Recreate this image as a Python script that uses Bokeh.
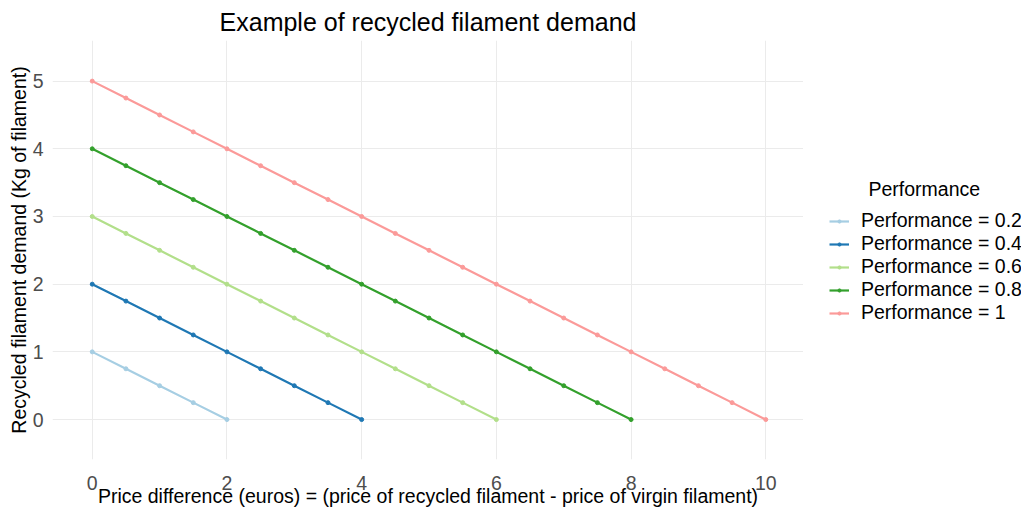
from bokeh.plotting import figure
from bokeh.layouts import row
from bokeh.models import Legend, LegendItem, Label, Range1d, FixedTicker
from bokeh.embed import file_html
from bokeh.resources import INLINE

series_names = ["Performance = 0.2", "Performance = 0.4", "Performance = 0.6",
                "Performance = 0.8", "Performance = 1"]
colors = ["#A6CEE3", "#1F78B4", "#B2DF8A", "#33A02C", "#FB9A99"]

x_p02 = [0, 0.5, 1, 1.5, 2]
y_p02 = [1, 0.75, 0.5, 0.25, 0]
x_p04 = [0, 0.5, 1, 1.5, 2, 2.5, 3, 3.5, 4]
y_p04 = [2, 1.75, 1.5, 1.25, 1, 0.75, 0.5, 0.25, 0]
x_p06 = [0, 0.5, 1, 1.5, 2, 2.5, 3, 3.5, 4, 4.5, 5, 5.5, 6]
y_p06 = [3, 2.75, 2.5, 2.25, 2, 1.75, 1.5, 1.25, 1, 0.75, 0.5, 0.25, 0]
x_p08 = [0, 0.5, 1, 1.5, 2, 2.5, 3, 3.5, 4, 4.5, 5, 5.5, 6, 6.5, 7, 7.5, 8]
y_p08 = [4, 3.75, 3.5, 3.25, 3, 2.75, 2.5, 2.25, 2, 1.75, 1.5, 1.25, 1, 0.75, 0.5, 0.25, 0]
x_p10 = [0, 0.5, 1, 1.5, 2, 2.5, 3, 3.5, 4, 4.5, 5, 5.5, 6, 6.5, 7, 7.5, 8, 8.5, 9, 9.5, 10]
y_p10 = [5, 4.75, 4.5, 4.25, 4, 3.75, 3.5, 3.25, 3, 2.75, 2.5, 2.25, 2, 1.75, 1.5, 1.25,
         1, 0.75, 0.5, 0.25, 0]

xs = [x_p02, x_p04, x_p06, x_p08, x_p10]
ys = [y_p02, y_p04, y_p06, y_p08, y_p10]

x_ticks = [0, 2, 4, 6, 8, 10]
y_ticks = [0, 1, 2, 3, 4, 5]

FONT = "Liberation Sans"

p = figure(frame_width=751, frame_height=419, output_backend="svg", toolbar_location=None,
           x_range=Range1d(-0.59, 10.56), y_range=Range1d(-0.59, 5.6),
           min_border_left=0, min_border_right=0, min_border_top=0, min_border_bottom=0,
           margin=(0, 0, 0, 4))

p.title.text = "Example of recycled filament demand"
p.title.align = "center"
p.title.text_font = FONT
p.title.text_font_size = "25px"
p.title.text_font_style = "normal"
p.title.text_color = "#000000"
p.title.standoff = 10
p.title.offset = 0

p.outline_line_color = None
p.background_fill_color = "white"
p.border_fill_color = "white"

for ax in (p.xaxis[0], p.yaxis[0]):
    ax.axis_line_color = None
    ax.major_tick_line_color = None
    ax.minor_tick_line_color = None
    ax.major_tick_in = 0
    ax.major_tick_out = 0
    ax.minor_tick_in = 0
    ax.minor_tick_out = 0
    ax.major_label_text_font = FONT
    ax.major_label_text_font_size = "19.5px"
    ax.major_label_text_color = "#4D4D4D"
    ax.axis_label_text_font = FONT
    ax.axis_label_text_font_size = "19.5px"
    ax.axis_label_text_font_style = "normal"
    ax.axis_label_text_color = "#000000"

p.xaxis.ticker = FixedTicker(ticks=x_ticks)
p.yaxis.ticker = FixedTicker(ticks=y_ticks)
p.xaxis.axis_label = "Price difference (euros) = (price of recycled filament - price of virgin filament)"
p.yaxis.axis_label = "Recycled filament demand (Kg of filament)"
p.xaxis.major_label_standoff = 16
p.xaxis.axis_label_standoff = -8
p.yaxis.major_label_standoff = 9
p.yaxis.axis_label_standoff = 0

p.xgrid.grid_line_color = "#EBEBEB"
p.ygrid.grid_line_color = "#EBEBEB"
p.xgrid.grid_line_width = 1
p.ygrid.grid_line_width = 1

for name, c, x, y in zip(series_names, colors, xs, ys):
    p.line(x, y, line_color=c, line_width=2.2)
    p.scatter(x, y, size=4, fill_color=c, line_color=c)

# legend panel: a separate figure to the right (its data lie outside its view)
LEG_H = 480
q = figure(width=218, height=LEG_H, output_backend="svg", toolbar_location=None,
           x_range=Range1d(1000, 1001), y_range=Range1d(1000, 1001),
           x_axis_type=None, y_axis_type=None,
           min_border_left=0, min_border_right=0, min_border_top=0, min_border_bottom=0)
q.outline_line_color = None
q.grid.visible = False
q.background_fill_color = "white"
q.border_fill_color = "white"

items = []
for name, c, x, y in zip(series_names, colors, xs, ys):
    rl = q.line(x, y, line_color=c, line_width=2.2)
    rs = q.scatter(x, y, size=4, fill_color=c, line_color=c)
    items.append(LegendItem(label=name, renderers=[rl, rs]))

legend = Legend(items=items, location=(26, 106), orientation="vertical",
                label_text_font=FONT, label_text_font_size="19.5px", label_text_color="#000000",
                glyph_width=20, glyph_height=8, label_height=20, label_standoff=12,
                spacing=0, padding=0, margin=0, border_line_color=None,
                background_fill_alpha=0)
q.add_layout(legend, "center")

title_lbl = Label(x=65, y=242, x_units="screen", y_units="screen", text="Performance",
                  text_font=FONT, text_font_size="19.5px", text_color="#000000",
                  text_baseline="middle", text_align="left")
q.add_layout(title_lbl)

layout = row(p, q, spacing=0)
open("out.html", "w").write(file_html(layout, INLINE))
